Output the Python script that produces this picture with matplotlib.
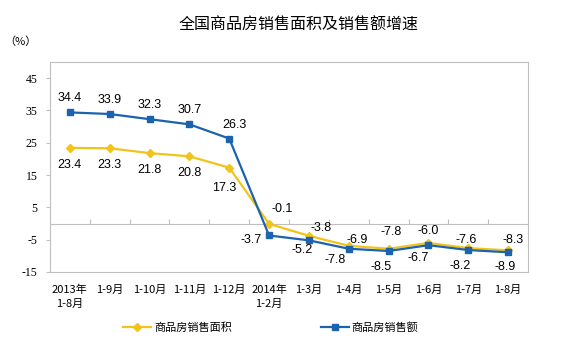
import numpy as np
import matplotlib.pyplot as plt

plt.rcParams['font.family'] = ['Noto Sans CJK SC', 'DejaVu Sans']

months = ['2013年\n1-8月', '1-9月', '1-10月', '1-11月', '1-12月', '2014年\n1-2月',
          '1-3月', '1-4月', '1-5月', '1-6月', '1-7月', '1-8月']
area = [23.4, 23.3, 21.8, 20.8, 17.3, -0.1, -3.8, -6.9, -7.8, -6.0, -7.6, -8.3]
amount = [34.4, 33.9, 32.3, 30.7, 26.3, -3.7, -5.2, -7.8, -8.5, -6.7, -8.2, -8.9]

# label offsets in pixels (dx, dy)
area_off = [(0, -17), (0, -17), (0, -17), (0, -17), (-5, -20), (13, 15),
            (12, 8), (8, 6), (3, 17), (0, 12), (-2, 8), (5, 10)]
amount_off = [(0, 14), (0, 14), (0, 14), (0, 14), (5, 14), (-18, -5),
              (-7, -10), (-14, -11), (-8, -16), (-10, -13), (-8, -16), (-3, -15)]

yellow = '#F2C31A'
blue = '#1B63AE'
grey = '#BFBFBF'

fig = plt.figure(figsize=(5.64, 3.52), dpi=100)
ax = fig.add_axes([50 / 564, 1 - 272 / 352, 478 / 564, 210 / 352])

x = np.arange(len(months))
l1, = ax.plot(x, area, color=yellow, lw=1.6, marker='D', ms=4.5, label='商品房销售面积')
l2, = ax.plot(x, amount, color=blue, lw=1.6, marker='s', ms=4.5, label='商品房销售额')

for i in range(len(x)):
    ax.annotate(f'{area[i]:.1f}', (x[i], area[i]), xytext=area_off[i], textcoords='offset pixels',
                ha='center', va='center', fontsize=9, family='Liberation Sans')
    ax.annotate(f'{amount[i]:.1f}', (x[i], amount[i]), xytext=amount_off[i], textcoords='offset pixels',
                ha='center', va='center', fontsize=9, family='Liberation Sans')

ax.set_xlim(-0.5, len(months) - 0.5)
ax.set_ylim(-15, 50)
ax.set_yticks(np.arange(-15, 46, 10))
ax.set_yticklabels([str(v) for v in range(-15, 46, 10)], family='Liberation Serif', fontsize=8.5)
ax.set_xticks(x)
ax.set_xticklabels(months, fontsize=8, linespacing=1.5)
ax.tick_params(axis='x', length=0, pad=9)
ax.tick_params(axis='y', length=3, color=grey, pad=6)
for s in ax.spines.values():
    s.set_color(grey)
    s.set_linewidth(0.8)

ax.axhline(0, color=grey, lw=0.8, zorder=0)
ax.vlines(x[:-1] + 0.5, 0, 1.3, color=grey, lw=0.8, zorder=0)

fig.text(0.53, 1 - 25 / 352, '全国商品房销售面积及销售额增速', ha='center', va='center', fontsize=11.5)
fig.text(20 / 564, 1 - 42 / 352, '（%）', ha='center', va='center', fontsize=8)

fig.legend(handles=[l1, l2], loc='center', bbox_to_anchor=(0.48, 1 - 328 / 352), ncol=2,
           frameon=False, fontsize=8, columnspacing=8, handlelength=2.5, handletextpad=0.3)

fig.savefig('out.png', dpi=100)
